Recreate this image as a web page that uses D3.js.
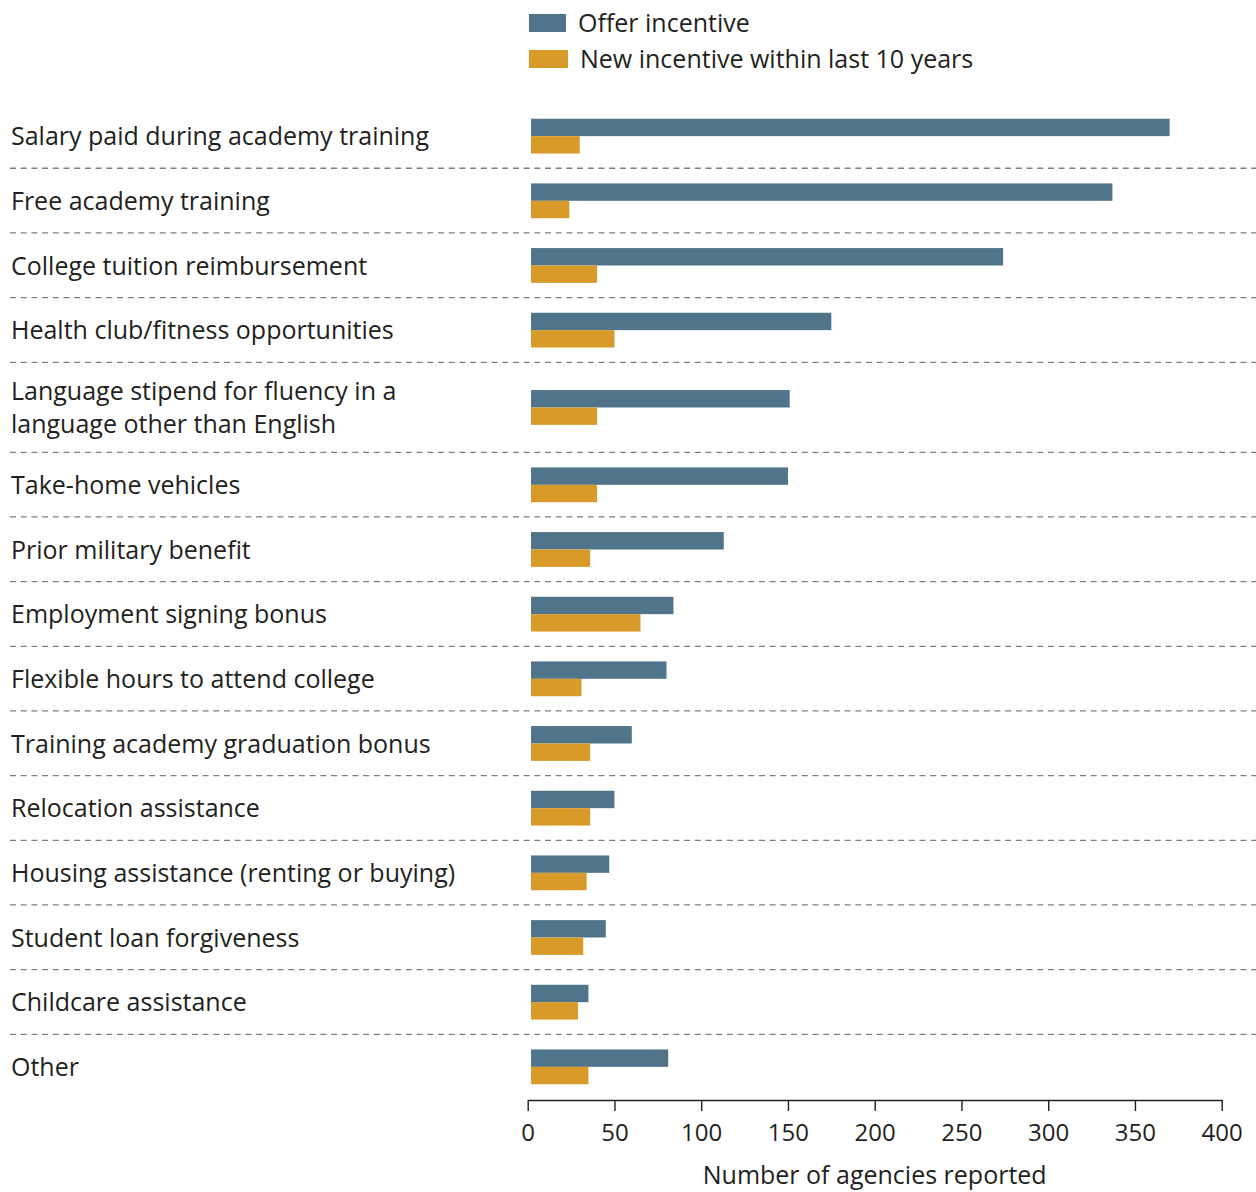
<!DOCTYPE html>
<html>
<head>
<meta charset="utf-8">
<script src="https://cdn.jsdelivr.net/npm/d3@7"></script>
<style>
  html, body { margin: 0; padding: 0; background: #fff; }
  svg { display: block; }
  text { font-family: "Open Sans", "Noto Sans", sans-serif; fill: #231f20; }
</style>
</head>
<body>
<svg id="chart" width="1256" height="1192"></svg>
<script>
// ---- data ----
const categories = [
  "Salary paid during academy training",
  "Free academy training",
  "College tuition reimbursement",
  "Health club/fitness opportunities",
  "Language stipend for fluency in a\nlanguage other than English",
  "Take-home vehicles",
  "Prior military benefit",
  "Employment signing bonus",
  "Flexible hours to attend college",
  "Training academy graduation bonus",
  "Relocation assistance",
  "Housing assistance (renting or buying)",
  "Student loan forgiveness",
  "Childcare assistance",
  "Other"
];
const seriesNames = ["Offer incentive", "New incentive within last 10 years"];
const offerIncentive = [370, 337, 274, 175, 151, 150, 113, 84, 80, 60, 50, 47, 45, 35, 81];
const newIncentive   = [30, 24, 40, 50, 40, 40, 36, 65, 31, 36, 36, 34, 32, 29, 35];
const xTicks = [0, 50, 100, 150, 200, 250, 300, 350, 400];
const xTitle = "Number of agencies reported";
const colors = ["#507489", "#d89a29"];

// ---- layout ----
const svg = d3.select("#chart");
const plotLeft = 527.7, plotRight = 1221.7;
const plotTop = 103.6;
const rowH1 = 64.67, rowH2 = 90;
const barOffset = 3.3;

const x = d3.scaleLinear().domain([0, 400]).range([plotLeft, plotRight]);

const rows = [];
let yCur = plotTop;
categories.forEach((c, i) => {
  const lines = c.split("\n");
  const h = lines.length > 1 ? rowH2 : rowH1;
  rows.push({ cat: c, lines, top: yCur, h, center: yCur + h / 2, values: [offerIncentive[i], newIncentive[i]] });
  yCur += h;
});

// dashed separators
svg.append("g").selectAll("line")
  .data(rows.slice(0, -1))
  .join("line")
  .attr("x1", 10).attr("x2", 1256)
  .attr("y1", d => d.top + d.h).attr("y2", d => d.top + d.h)
  .attr("stroke", "#7f7f7f").attr("stroke-width", 1.3)
  .attr("stroke-dasharray", "6,4.7");

// category labels
const lab = svg.append("g");
rows.forEach(r => {
  const n = r.lines.length;
  const lh = 33;
  r.lines.forEach((ln, j) => {
    lab.append("text")
      .attr("x", 11)
      .attr("y", r.center + 9.5 + (j - (n - 1) / 2) * lh)
      .attr("font-size", 25)
      .text(ln);
  });
});

// bars
const gb = svg.append("g");
rows.forEach(r => {
  const sub = d3.scaleBand().domain(seriesNames).range([r.center - 17.2, r.center + 17.6]).padding(0);
  gb.selectAll(null)
    .data(r.values.map((v, k) => ({ v, k })))
    .join("rect")
    .attr("x", x(0) + barOffset)
    .attr("y", d => sub(seriesNames[d.k]))
    .attr("width", d => x(d.v) - x(0) - barOffset)
    .attr("height", sub.bandwidth())
    .attr("fill", d => colors[d.k]);
});

// axis
const axisY = 1100;
const ax = svg.append("g").attr("transform", `translate(0,${axisY})`)
  .call(d3.axisBottom(x).tickValues(xTicks).tickSize(11).tickSizeOuter(0).tickPadding(13));
ax.select(".domain").attr("stroke", "#231f20").attr("stroke-width", 1.4);
ax.selectAll(".tick line").attr("stroke", "#231f20").attr("stroke-width", 1.4);
ax.selectAll(".tick text")
  .attr("font-size", 24)
  .attr("font-family", "\"Open Sans\", \"Noto Sans\", sans-serif")
  .attr("fill", "#231f20");

svg.append("text")
  .attr("x", (x(0) + x(400)) / 2)
  .attr("y", 1184)
  .attr("text-anchor", "middle")
  .attr("font-size", 25)
  .text(xTitle);

// legend
const lg = svg.append("g");
const legY = [14, 50];
seriesNames.forEach((s, i) => {
  lg.append("rect").attr("x", 529).attr("y", legY[i]).attr("width", 37 + i * 2).attr("height", 18).attr("fill", colors[i]);
  lg.append("text").attr("x", 578 + i * 2).attr("y", legY[i] + 18).attr("font-size", 25).text(s);
});
</script>
</body>
</html>
